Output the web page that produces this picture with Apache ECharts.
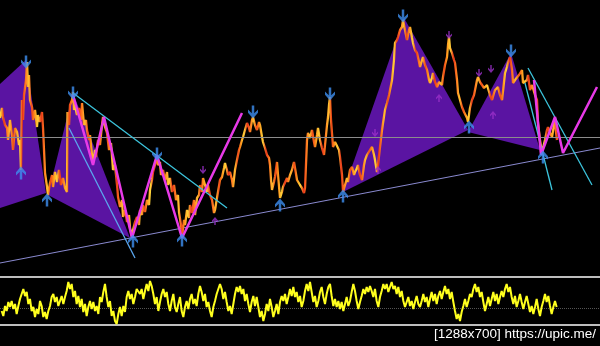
<!DOCTYPE html>
<html><head><meta charset="utf-8">
<script src="https://cdn.jsdelivr.net/npm/echarts/dist/echarts.min.js"></script>
<style>html,body{margin:0;padding:0;background:#000}#c{width:600px;height:346px}</style>
</head><body><div id="c"></div>
<script>
// price path: [time, price] (price axis runs downward like the screen scale)
const price = [[0,118],[2,108],[3,117],[5,125],[7,128],[8,140],[10,120],[12,135],[13,150],[15,128],[17,132],[19,145],[20,140],[21,170],[22,100],[23,120],[24,95],[26,80],[27,62],[28,87],[29,75],[30,100],[32,107],[33,120],[35,110],[37,127],[38,115],[40,122],[42,112],[43,128],[44,150],[45,173],[47,187],[48,195],[50,183],[52,175],[53,187],[55,172],[57,182],[59,170],[61,185],[63,178],[65,188],[67,192],[67.5,112],[69,125],[70,105],[72,100],[73,92],[74,110],[75,105],[77,115],[79,108],[81,120],[82,103],[84,125],[86,120],[87,130],[89,140],[90,135],[92,155],[93,163],[95,150],[96,157],[98,140],[100,145],[102,125],[103,117],[105,127],[107,133],[109,150],[111,143],[113,170],[115,165],[117,185],[118,197],[120,207],[122,200],[123,217],[125,210],[127,222],[129,215],[130,228],[132,237],[133,230],[135,222],[137,217],[139,225],[140,210],[142,215],[143,205],[145,212],[147,200],[149,205],[150,190],[152,180],[153,172],[155,165],[157,156],[158,165],[160,162],[161,175],[163,170],[165,180],[167,172],[168,185],[170,178],[172,192],[174,185],[176,200],[178,195],[179,212],[181,225],[182,237],[184,220],[185,225],[187,210],[189,218],[190,205],[192,213],[194,200],[195,215],[197,198],[199,195],[200,185],[202,192],[203,178],[205,185],[207,192],[208,185],[210,195],[212,200],[214,213],[215,210],[217,198],[218,200],[220,180],[222,177],[224,168],[225,163],[227,170],[228,175],[230,172],[232,180],[233,187],[235,170],[237,160],[239,150],[240,147],[242,140],[243,137],[245,130],[247,123],[249,128],[250,132],[252,120],[253,117],[255,125],[257,130],[259,122],[260,125],[262,137],[263,142],[265,148],[267,155],[269,158],[270,165],[271,180],[272,190],[274,182],[275,177],[277,162],[278,175],[280,198],[282,192],[283,187],[285,185],[287,178],[288,182],[290,175],[292,170],[294,162],[295,168],[297,180],[298,178],[300,185],[302,188],[304,193],[305,188],[307,140],[308,133],[310,138],[312,130],[314,142],[315,147],[317,135],[318,128],[320,140],[322,148],[324,155],[325,157],[327,125],[328,117],[329,105],[330,97],[331,120],[333,147],[335,142],[337,140],[339,150],[340,157],[342,175],[343,192],[345,185],[347,178],[348,182],[350,170],[352,167],[354,175],[355,172],[357,168],[358,165],[360,175],[362,180],[364,165],[365,160],[367,155],[368,153],[370,150],[372,147],[374,155],[375,160],[377,172],[378,165],[380,147],[382,130],[383,123],[385,110],[387,103],[389,95],[390,90],[392,80],[394,60],[395,43],[397,40],[398,37],[400,30],[402,27],[403,20],[405,30],[407,40],[409,30],[410,27],[412,38],[413,43],[415,50],[417,53],[419,62],[420,67],[422,60],[423,57],[425,65],[427,70],[429,80],[430,83],[432,78],[433,73],[435,82],[437,87],[439,82],[440,80],[442,85],[443,77],[445,65],[447,57],[448,45],[449,37],[450,48],[452,53],[454,60],[455,63],[457,80],[458,93],[460,100],[462,107],[464,112],[465,110],[467,118],[468,122],[470,108],[472,100],[474,95],[475,90],[477,80],[478,77],[480,82],[482,83],[484,88],[485,90],[487,85],[488,83],[490,95],[492,100],[494,93],[495,90],[497,88],[498,87],[500,95],[502,100],[504,82],[505,73],[507,67],[508,63],[510,57],[511,55],[512,70],[513,83],[515,80],[517,80],[519,75],[520,77],[522,70],[523,83],[525,82],[527,80],[528,75],[530,90],[532,85],[533,83],[535,95],[537,100],[538,123],[540,140],[542,153],[543,148],[545,140],[547,130],[548,127],[550,133],[552,137],[554,125],[555,120],[556,132],[557,140]];

// oscillator values, one per bar
const osc = [311,316,306,311,302,307,301,309,304,314,306,299,294,289,296,292,304,299,311,307,317,309,314,301,306,317,312,319,311,306,297,294,302,297,306,301,296,304,297,291,282,289,284,297,291,304,296,307,299,312,304,316,307,301,309,302,311,306,314,297,302,292,284,297,307,301,316,311,321,324,314,307,316,306,312,297,291,299,294,304,297,289,287,
294,289,299,291,284,291,281,286,294,304,297,311,302,294,289,297,292,304,311,301,294,307,312,304,297,311,317,307,301,309,299,294,304,299,306,294,286,292,301,294,307,302,311,317,307,301,294,289,284,289,299,292,302,311,306,314,304,294,287,292,286,294,289,301,294,304,312,302,296,306,297,307,317,311,321,314,304,311,299,307,317,311,304,314,
302,296,301,294,304,297,289,296,287,297,292,302,296,307,301,291,284,291,282,292,302,296,307,301,292,287,297,304,294,287,284,296,306,299,307,301,309,302,311,304,297,306,301,292,284,291,301,309,302,296,289,294,287,292,286,291,297,289,301,307,297,291,284,289,284,292,287,282,289,286,294,287,297,291,301,307,302,297,306,301,309,302,296,304,
307,301,294,302,297,307,299,292,301,294,304,296,291,299,292,286,294,289,299,292,302,311,319,314,321,312,306,299,307,301,294,297,289,284,292,287,297,292,302,311,304,297,306,299,292,301,294,304,297,291,297,289,284,292,287,297,304,296,307,301,294,302,309,302,296,304,312,306,314,307,299,309,316,307,301,294,302,296,306,314,307,301,307];

const peaksDown = [[26,62],[73,93],[157,154],[253,112],[330,94],[403,16],[511,51]];
const troughsUp = [[21,173],[47,200],[133,241],[182,240],[280,205],[343,196],[469,127],[543,157]];
const fractalDown = [[203,170],[375,133],[449,35],[479,73],[491,69]];
const fractalUp = [[215,221],[378,170],[439,98],[493,115]];

const waves = [
  [[0,84],[26,60],[46,193],[0,208]],
  [[48,195],[73,93],[130,238]],
  [[343,192],[404,18],[468,130]],
  [[468,132],[511,53],[540,150]]
];
const zigzagA = [[73,95],[93,165],[104,117],[132,238],[157,155],[182,238],[242,113]];
const zigzagB = [[534,80],[541,155],[555,117],[563,153],[597,87]];
const cyanLines = [[[73,93],[227,208]],[[528,68],[592,185]],[[525,83],[552,190]]];
const blueLines = [[[69,128],[135,258]]];
const trend = [[0,263],[600,148]];
const priceLevel = 137;
const oscBand = [277,325];
const oscMid = 308;
const credit = '[1288x700] https://upic.me/';

const arrowPath = 'path://M3,0 L5,0 L5,6 L8,3 L8,5.5 L4,10 L0,5.5 L0,3 L3,6 Z';

const stops = [];
const pal = ['#ff9a1e','#ffd43a','#e8361a','#ff7a20','#ffc030','#f04818'];
for (let i = 0; i <= 180; i++) stops.push({offset: i/180, color: pal[i % pal.length]});

const chart = echarts.init(document.getElementById('c'), null, {renderer:'canvas'});
const segSeries = (segs, color, width) => segs.map(s => ({
  type:'line', data:s, xAxisIndex:0, yAxisIndex:0, symbol:'none', silent:true,
  lineStyle:{color, width}, z:5
}));

chart.setOption({
  backgroundColor:'#000',
  animation:false,
  grid:[{left:0,right:0,top:0,bottom:0},{left:5/3,width:555,top:0,bottom:0}],
  xAxis:[{type:'value',min:0,max:600,show:false,gridIndex:0},
         {type:'category',data:osc.map((v,i)=>i),boundaryGap:false,show:false,gridIndex:1}],
  yAxis:[{type:'value',min:0,max:346,inverse:true,show:false,gridIndex:0},
         {type:'value',min:0,max:346,inverse:true,show:false,gridIndex:1}],
  series:[
    {type:'custom', xAxisIndex:0, yAxisIndex:0, silent:true, z:1,
     data: waves.map(w => w[0]),
     renderItem:(params, api) => ({
       type:'polygon',
       shape:{points: waves[params.dataIndex].map(p => api.coord(p))},
       style:{fill:'#5a14a2'}
     })},
    {type:'line', data:[], xAxisIndex:0, yAxisIndex:0, silent:true, z:2,
     markLine:{symbol:'none', silent:true, label:{show:false},
       data:[{yAxis:priceLevel, lineStyle:{color:'#8c8c8c',width:1,type:'solid'}},
             {yAxis:oscBand[0], lineStyle:{color:'#bdbdbd',width:2,type:'solid'}},
             {yAxis:oscBand[1], lineStyle:{color:'#bdbdbd',width:2,type:'solid'}},
             {yAxis:oscMid, lineStyle:{color:'#555',width:1,type:'dotted'}}]}},
    {type:'line', data:trend, xAxisIndex:0, yAxisIndex:0, symbol:'none', silent:true, z:3,
     lineStyle:{color:'#8a8ad0', width:1}},
    {type:'line', data:price, xAxisIndex:0, yAxisIndex:0, symbol:'none', silent:true, z:4,
     lineStyle:{width:2.3, color:new echarts.graphic.LinearGradient(0,0,1,0,stops)}},
    ...segSeries(cyanLines,'#3cc4dc',1.3),
    ...segSeries(blueLines,'#5aa6ee',1.3),
    {type:'line', data:zigzagA, xAxisIndex:0, yAxisIndex:0, symbol:'none', silent:true, z:6,
     lineStyle:{color:'#e83ae8', width:2.5}},
    {type:'line', data:zigzagB, xAxisIndex:0, yAxisIndex:0, symbol:'none', silent:true, z:6,
     lineStyle:{color:'#e83ae8', width:2.5}},
    {type:'scatter', data:peaksDown, xAxisIndex:0, yAxisIndex:0, symbol:arrowPath, symbolSize:[10,13], silent:true, z:8,
     itemStyle:{color:'#3d8ef0'}},
    {type:'scatter', data:troughsUp, xAxisIndex:0, yAxisIndex:0, symbol:arrowPath, symbolSize:[10,13], symbolRotate:180, silent:true, z:8,
     itemStyle:{color:'#3d8ef0'}},
    {type:'scatter', data:fractalDown, xAxisIndex:0, yAxisIndex:0, symbol:arrowPath, symbolSize:[6,8], silent:true, z:7,
     itemStyle:{color:'#9a30c8'}},
    {type:'scatter', data:fractalUp, xAxisIndex:0, yAxisIndex:0, symbol:arrowPath, symbolSize:[6,8], symbolRotate:180, silent:true, z:7,
     itemStyle:{color:'#9a30c8'}},
    {type:'line', data:osc, xAxisIndex:1, yAxisIndex:1, symbol:'none', silent:true, z:5,
     lineStyle:{color:'#ffff1e', width:2}}
  ],
  graphic:[{type:'text', right:4, top:327, z:20,
    style:{text:credit, fill:'#ffffff', font:'13.5px "Liberation Sans"'}}]
});
</script></body></html>
